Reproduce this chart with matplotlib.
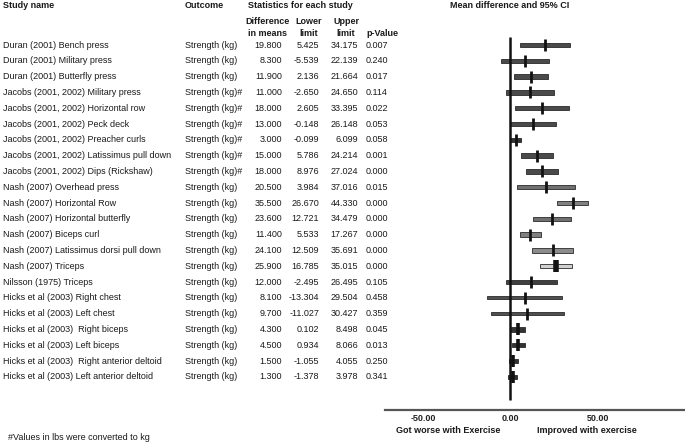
import matplotlib
matplotlib.use("Agg")
import matplotlib.pyplot as plt
from matplotlib.transforms import blended_transform_factory

plt.rcParams['font.family'] = ['Liberation Sans', 'DejaVu Sans']

# data
studies = [
    "Duran (2001) Bench press",
    "Duran (2001) Military press",
    "Duran (2001) Butterfly press",
    "Jacobs (2001, 2002) Military press",
    "Jacobs (2001, 2002) Horizontal row",
    "Jacobs (2001, 2002) Peck deck",
    "Jacobs (2001, 2002) Preacher curls",
    "Jacobs (2001, 2002) Latissimus pull down",
    "Jacobs (2001, 2002) Dips (Rickshaw)",
    "Nash (2007) Overhead press",
    "Nash (2007) Horizontal Row",
    "Nash (2007) Horizontal butterfly",
    "Nash (2007) Biceps curl",
    "Nash (2007) Latissimus dorsi pull down",
    "Nash (2007) Triceps",
    "Nilsson (1975) Triceps",
    "Hicks et al (2003) Right chest",
    "Hicks et al (2003) Left chest",
    "Hicks et al (2003)  Right biceps",
    "Hicks et al (2003) Left biceps",
    "Hicks et al (2003)  Right anterior deltoid",
    "Hicks et al (2003) Left anterior deltoid",
]
outcomes = ["Strength (kg)"] * 3 + ["Strength (kg)#"] * 6 + ["Strength (kg)"] * 13
diff = [19.8, 8.3, 11.9, 11.0, 18.0, 13.0, 3.0, 15.0, 18.0, 20.5, 35.5,
        23.6, 11.4, 24.1, 25.9, 12.0, 8.1, 9.7, 4.3, 4.5, 1.5, 1.3]
lower = [5.425, -5.539, 2.136, -2.650, 2.605, -0.148, -0.099, 5.786, 8.976,
         3.984, 26.670, 12.721, 5.533, 12.509, 16.785, -2.495, -13.304,
         -11.027, 0.102, 0.934, -1.055, -1.378]
upper = [34.175, 22.139, 21.664, 24.650, 33.395, 26.148, 6.099, 24.214, 27.024,
         37.016, 44.330, 34.479, 17.267, 35.691, 35.015, 26.495, 29.504,
         30.427, 8.498, 8.066, 4.055, 3.978]
pvals = [0.007, 0.240, 0.017, 0.114, 0.022, 0.053, 0.058, 0.001, 0.000, 0.015,
         0.000, 0.000, 0.000, 0.000, 0.000, 0.105, 0.458, 0.359, 0.045, 0.013,
         0.250, 0.341]
xticks = [-50, 0, 50]

# bar shading (weight-like), style only
shades = ["#4a4a4a"] * 9 + ["#707070", "#808080", "#707070", "#808080",
                            "#8c8c8c", "#d0d0d0", "#404040", "#505050",
                            "#505050", "#333333", "#333333", "#333333", "#333333"]
shades[6] = "#333333"
mark_w = [2.0] * 22
mark_w[14] = 4.0
for k in (18, 19, 20, 21):
    mark_w[k] = 2.6

W, H = 685, 448
fig = plt.figure(figsize=(W / 100, H / 100), dpi=100)


def fx(x):
    return x / W


def fy(y):
    return 1 - y / H


# axes spans x 385..685 px, y 30..410 px
ax = fig.add_axes([fx(385), fy(410), fx(685) - fx(385), (410 - 30) / H])
ax.set_xlim(-71.7, 99.7)
ax.set_ylim(23.1, -0.95)
for s in ("top", "right", "left"):
    ax.spines[s].set_visible(False)
ax.spines["bottom"].set_color("#555555")
ax.spines["bottom"].set_linewidth(1.6)
ax.set_yticks([])
ax.set_xticks(xticks)
fs = 6.5
ax.set_xticklabels(["%.2f" % t for t in xticks], fontweight="bold", fontsize=fs)
ax.tick_params(axis="x", length=0, pad=3, colors="#222222")

rows = list(range(len(studies)))
ax.vlines(0, -0.5, 22.45, color="#111111", lw=1.8, zorder=3)
for i in rows:
    h = 0.17 if i in (16, 17) else 0.27
    ax.barh(i, upper[i] - lower[i], left=lower[i], height=h, color=shades[i],
            edgecolor="#2a2a2a", lw=0.6, zorder=2)
    ax.plot([diff[i]], [i], marker="|", markersize=9, mew=mark_w[i],
            color="#111111", zorder=4)

tr = blended_transform_factory(fig.transFigure, ax.transData)
tc = "#1a1a1a"
for i in rows:
    fig.text(fx(3), i, studies[i], transform=tr, va="center", ha="left", fontsize=fs, color=tc)
    fig.text(fx(185), i, outcomes[i], transform=tr, va="center", ha="left", fontsize=fs, color=tc)
    fig.text(fx(282), i, "%.3f" % diff[i], transform=tr, va="center", ha="right", fontsize=fs, color=tc)
    fig.text(fx(319), i, "%.3f" % lower[i], transform=tr, va="center", ha="right", fontsize=fs, color=tc)
    fig.text(fx(358), i, "%.3f" % upper[i], transform=tr, va="center", ha="right", fontsize=fs, color=tc)
    fig.text(fx(366), i, "%.3f" % pvals[i], transform=tr, va="center", ha="left", fontsize=fs, color=tc)

# headers
hb = dict(fontsize=fs, fontweight="bold", color=tc, va="center")
fig.text(fx(3), fy(6), "Study name", ha="left", **hb)
fig.text(fx(185), fy(6), "Outcome", ha="left", **hb)
fig.text(fx(248), fy(6), "Statistics for each study", ha="left", **hb)
fig.text(fx(510), fy(6), "Mean difference and 95% CI", ha="center", **hb)
fig.text(fx(267), fy(22), "Difference", ha="center", **hb)
fig.text(fx(267), fy(33), "in means", ha="center", **hb)
fig.text(fx(309), fy(22), "Lower", ha="center", **hb)
fig.text(fx(309), fy(33), "limit", ha="center", **hb)
fig.text(fx(346), fy(22), "Upper", ha="center", **hb)
fig.text(fx(346), fy(33), "limit", ha="center", **hb)
fig.text(fx(366), fy(33), "p-Value", ha="left", **hb)

fig.text(fx(448), fy(430), "Got worse with Exercise", ha="center", **hb)
fig.text(fx(587), fy(430), "Improved with exercise", ha="center", **hb)
fig.text(fx(8), fy(437), "#Values in lbs were converted to kg", ha="left",
         va="center", fontsize=fs, color=tc)

fig.savefig("out.png", dpi=100)
